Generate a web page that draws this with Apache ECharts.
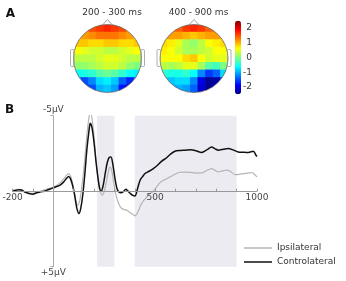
<!DOCTYPE html>
<html>
<head>
<meta charset="utf-8">
<script src="https://cdn.jsdelivr.net/npm/echarts@6/dist/echarts.min.js"></script>
<style>
  html, body { margin: 0; padding: 0; background: #fff; }
  #chart { width: 346px; height: 281px; }
</style>
</head>
<body>
<div id="chart"></div>
<script>
// topomap values (9x9, front row first), null = outside the head
const topo200_300 = [
  [null, 1.3, 1.5, 1.6, 1.7, 1.6, 1.5, 1.3, null],
  [1.0, 1.1, 1.2, 1.3, 1.3, 1.3, 1.2, 1.1, 1.0],
  [0.9, 0.9, 0.8, 0.8, 0.9, 0.9, 0.8, 0.8, 0.9],
  [0.6, 0.5, 0.4, 0.4, 0.3, 0.3, 0.4, 0.5, 0.6],
  [0.3, 0.3, 0.3, 0.4, 0.5, 0.5, 0.4, 0.3, 0.3],
  [0.1, 0.1, 0.2, 0.3, 0.4, 0.4, 0.3, 0.1, 0.0],
  [-0.6, -0.5, -0.4, -0.2, -0.1, -0.2, -0.4, -0.6, -0.7],
  [-1.3, -1.5, -1.2, -0.8, -0.7, -0.9, -1.4, -1.7, -1.4],
  [null, -1.7, -1.5, -1.0, -0.9, -1.1, -1.8, -2.0, null]
];
const topo400_900 = [
  [null, 1.2, 1.4, 1.6, 1.7, 1.6, 1.4, 1.2, null],
  [1.0, 1.1, 1.1, 1.0, 0.9, 1.0, 1.1, 1.1, 1.0],
  [0.8, 0.7, 0.5, 0.2, 0.1, 0.3, 0.6, 0.7, 0.8],
  [0.7, 0.6, 0.4, 0.2, 0.2, 0.3, 0.4, 0.6, 0.6],
  [0.6, 0.6, 0.6, 0.8, 0.9, 0.6, 0.4, 0.5, 0.5],
  [0.3, 0.2, 0.3, 0.5, 0.5, 0.2, -0.2, -0.3, 0.0],
  [-0.4, -0.5, -0.5, -0.4, -0.6, -1.2, -1.6, -1.4, -0.8],
  [-0.8, -0.9, -0.8, -0.8, -1.2, -2.0, -2.4, -2.3, -1.6],
  [null, -1.0, -1.0, -1.1, -1.4, -2.1, -2.4, -2.2, null]
];
const topoTitles = ['200 - 300 ms', '400 - 900 ms'];
const colorbarTicks = [-2, -1, 0, 1, 2];

// ERP waveforms: [time ms, amplitude µV]
const ipsilateral = [
  [-200, -0.05], [-185, -0.1], [-170, -0.12], [-155, -0.05], [-140, 0.05], [-120, 0.12],
  [-100, 0.15], [-85, 0.1], [-65, 0.0], [-45, -0.08], [-30, -0.15], [-15, -0.2], [0, -0.28],
  [15, -0.38], [33, -0.55], [50, -0.8], [65, -1.05], [75, -1.17], [85, -1.0], [95, -0.5],
  [105, 0.2], [112, 0.7], [120, 0.93], [130, 0.6], [140, -0.3], [150, -1.5], [160, -3.0],
  [170, -4.4], [178, -5.1], [183, -5.2], [190, -4.8], [200, -3.6], [210, -2.0], [220, -0.8],
  [230, 0.0], [240, 0.26], [250, 0.0], [260, -0.6], [270, -1.3], [278, -1.6], [286, -1.4],
  [295, -0.7], [305, 0.1], [315, 0.6], [325, 0.95], [336, 1.15], [350, 1.22], [365, 1.3],
  [380, 1.45], [392, 1.55], [401, 1.63], [410, 1.5], [420, 1.25], [430, 0.9], [442, 0.65],
  [455, 0.45], [470, 0.2], [491, 0.0], [505, -0.25], [524, -0.57], [545, -0.75], [573, -0.95],
  [595, -1.1], [614, -1.24], [640, -1.26], [671, -1.25], [700, -1.2], [728, -1.21], [750, -1.35],
  [777, -1.5], [795, -1.38], [810, -1.28], [830, -1.35], [851, -1.39], [870, -1.3], [892, -1.1],
  [912, -1.12], [933, -1.17], [955, -1.2], [974, -1.24], [986, -1.12], [1000, -0.95]
];
const contralateral = [
  [-200, 0.0], [-185, -0.05], [-170, -0.1], [-155, -0.08], [-140, 0.05], [-120, 0.15],
  [-100, 0.2], [-85, 0.12], [-65, 0.05], [-45, 0.0], [-30, -0.07], [-15, -0.15], [0, -0.22],
  [15, -0.3], [33, -0.4], [50, -0.6], [65, -0.85], [75, -0.97], [85, -0.8], [95, -0.35],
  [105, 0.3], [115, 1.1], [126, 1.48], [135, 1.1], [145, 0.2], [155, -1.2], [165, -2.8],
  [175, -4.0], [181, -4.5], [190, -4.2], [200, -3.2], [210, -1.9], [220, -0.8], [228, -0.15],
  [235, 0.0], [245, -0.4], [255, -1.2], [265, -1.9], [275, -2.25], [283, -2.27], [292, -1.8],
  [302, -0.9], [312, -0.2], [322, 0.05], [332, 0.1], [342, 0.05], [356, -0.13], [366, -0.02],
  [378, 0.15], [390, 0.28], [401, 0.31], [412, -0.1], [426, -0.73], [440, -1.0], [450, -1.17],
  [470, -1.32], [491, -1.5], [510, -1.7], [532, -1.99], [555, -2.2], [573, -2.43], [597, -2.65],
  [625, -2.7], [647, -2.72], [675, -2.75], [700, -2.68], [728, -2.56], [755, -2.75], [777, -2.93],
  [795, -2.8], [810, -2.72], [835, -2.78], [859, -2.83], [885, -2.72], [908, -2.6], [930, -2.58],
  [957, -2.56], [982, -2.65], [995, -2.38], [1000, -2.3]
];
const shadedWindows = [[215, 300], [400, 900]];
const xTickLabels = [-200, 500, 1000];

const jet = ['#00007f', '#0000ff', '#007fff', '#00ffff', '#7fff7f', '#ffff00', '#ff7f00', '#ff0000', '#7f0000'];
const font = 'DejaVu Sans';

function toCells(m) {
  const out = [];
  m.forEach((row, r) => row.forEach((v, c) => { if (v !== null) out.push([c, r, v]); }));
  return out;
}

const idx = ['0', '1', '2', '3', '4', '5', '6', '7', '8'];
const heads = [{ cx: 107.5, cy: 58.5 }, { cx: 194, cy: 58.5 }];
const R = 34;

// ERP plot box: -200..1000 ms, -5..+5 µV
const erp = { left: 12.6, top: 115.7, width: 244.4, height: 151 };
const xMin = -200, xMax = 1000;

const graphics = [];
heads.forEach((h, i) => {
  // white ring hides the square corners of the heatmap
  graphics.push({ type: 'circle', z: 100, silent: true,
    shape: { cx: h.cx, cy: h.cy, r: R + 8 }, style: { fill: null, stroke: '#fff', lineWidth: 16 } });
  graphics.push({ type: 'circle', z: 101, silent: true,
    shape: { cx: h.cx, cy: h.cy, r: R }, style: { fill: null, stroke: '#666', lineWidth: 0.8 } });
  graphics.push({ type: 'polyline', z: 101, silent: true,
    shape: { points: [[h.cx - 5, h.cy - R + 0.5], [h.cx, h.cy - R - 5], [h.cx + 5, h.cy - R + 0.5]] },
    style: { fill: null, stroke: '#888', lineWidth: 0.8 } });
  graphics.push({ type: 'rect', z: 101, silent: true,
    shape: { x: h.cx - R - 3, y: h.cy - 9, width: 3.5, height: 17, r: 1 },
    style: { fill: null, stroke: '#999', lineWidth: 0.8 } });
  graphics.push({ type: 'rect', z: 101, silent: true,
    shape: { x: h.cx + R - 0.5, y: h.cy - 9, width: 3.5, height: 17, r: 1 },
    style: { fill: null, stroke: '#999', lineWidth: 0.8 } });
  graphics.push({ type: 'text', z: 102, silent: true, x: h.cx + 4.5, y: 12.5,
    style: { text: topoTitles[i], fill: '#333', font: '9px "' + font + '"', align: 'center', verticalAlign: 'middle' } });
});
graphics.push({ type: 'text', z: 102, x: 10.5, y: 14,
  style: { text: 'A', fill: '#111', font: 'bold 12px "' + font + '"', align: 'center', verticalAlign: 'middle' } });
graphics.push({ type: 'text', z: 102, x: 9.5, y: 110,
  style: { text: 'B', fill: '#111', font: 'bold 12px "' + font + '"', align: 'center', verticalAlign: 'middle' } });

const option = {
  animation: false,
  textStyle: { fontFamily: font },
  grid: [
    { left: heads[0].cx - R, top: heads[0].cy - R, width: 2 * R, height: 2 * R, outerBoundsMode: 'none' },
    { left: heads[1].cx - R, top: heads[1].cy - R, width: 2 * R, height: 2 * R, outerBoundsMode: 'none' },
    { left: 235, top: 20.7, width: 6, height: 73.6, outerBoundsMode: 'none' },
    Object.assign({ outerBoundsMode: 'none' }, erp)
  ],
  xAxis: [
    { gridIndex: 0, type: 'category', data: idx, show: false },
    { gridIndex: 1, type: 'category', data: idx, show: false },
    { gridIndex: 2, type: 'value', min: 0, max: 1, show: false },
    {
      gridIndex: 3, type: 'value', min: xMin, max: xMax, interval: 100, z: 10,
      position: 'bottom', offset: -erp.height / 2,
      axisLine: { onZero: false, lineStyle: { color: '#999', width: 1 } },
      axisTick: { inside: true, length: 2.5, lineStyle: { color: '#999' } },
      axisLabel: {
        margin: 2, fontSize: 9, color: '#444', hideOverlap: false,
        customValues: xTickLabels, formatter: v => String(v)
      },
      splitLine: { show: false }
    }
  ],
  yAxis: [
    { gridIndex: 0, type: 'category', data: idx, inverse: true, show: false },
    { gridIndex: 1, type: 'category', data: idx, inverse: true, show: false },
    {
      gridIndex: 2, type: 'value', min: -2.5, max: 2.5, interval: 0.5, position: 'right',
      axisLine: { show: false }, axisTick: { show: false }, splitLine: { show: false },
      axisLabel: {
        margin: 11, align: 'right', fontSize: 9, color: '#333',
        formatter: v => (colorbarTicks.indexOf(v) >= 0 ? String(v) : '')
      }
    },
    {
      gridIndex: 3, type: 'value', inverse: true, min: -5, max: 5, interval: 5, z: 10,
      position: 'left', offset: -erp.width * (0 - xMin) / (xMax - xMin),
      axisLine: { onZero: false, lineStyle: { color: '#aaa', width: 1 } },
      axisTick: { length: 3, lineStyle: { color: '#aaa' } },
      splitLine: { show: false },
      axisLabel: {
        margin: 0, align: 'center', verticalAlign: 'middle', fontSize: 9, color: '#444',
        formatter: v => (v === -5 ? '{t|-5µV}' : v === 5 ? '{b|+5µV}' : ''),
        rich: {
          t: { fontSize: 9, color: '#444', padding: [0, 0, 13, 0] },
          b: { fontSize: 9, color: '#444', padding: [11, 0, 0, 0] }
        }
      }
    }
  ],
  visualMap: {
    type: 'continuous', min: -2.5, max: 2.5, seriesIndex: [0, 1],
    orient: 'vertical', left: 235, top: 20.7, itemWidth: 6, itemHeight: 73.6,
    padding: 0, calculable: false, text: null, z: 200,
    inRange: { color: jet }
  },
  legend: {
    data: ['Ipsilateral', 'Controlateral'],
    orient: 'vertical', left: 244, top: 243.5, itemGap: 5,
    itemWidth: 28, itemHeight: 1.5, icon: 'rect',
    textStyle: { fontSize: 9, color: '#333' }, padding: 0, itemStyle: { borderWidth: 0 }
  },
  graphic: graphics,
  series: [
    { type: 'heatmap', xAxisIndex: 0, yAxisIndex: 0, data: toCells(topo200_300), silent: true },
    { type: 'heatmap', xAxisIndex: 1, yAxisIndex: 1, data: toCells(topo400_900), silent: true },
    {
      name: 'windows', type: 'line', xAxisIndex: 3, yAxisIndex: 3, data: [], z: 1, silent: true,
      markArea: {
        silent: true, itemStyle: { color: '#ebebf1' },
        data: shadedWindows.map(w => [{ xAxis: w[0] }, { xAxis: w[1] }])
      }
    },
    {
      name: 'Ipsilateral', type: 'line', xAxisIndex: 3, yAxisIndex: 3, data: ipsilateral,
      showSymbol: false, smooth: 0.3, z: 3, color: '#b5b5b5',
      lineStyle: { width: 1.2, color: '#b5b5b5' }
    },
    {
      name: 'Controlateral', type: 'line', xAxisIndex: 3, yAxisIndex: 3, data: contralateral,
      showSymbol: false, smooth: 0.3, z: 4, color: '#111',
      lineStyle: { width: 1.5, color: '#111' }
    }
  ]
};

const chart = echarts.init(document.getElementById('chart'), null, { renderer: 'canvas' });
chart.setOption(option);
</script>
</body>
</html>
